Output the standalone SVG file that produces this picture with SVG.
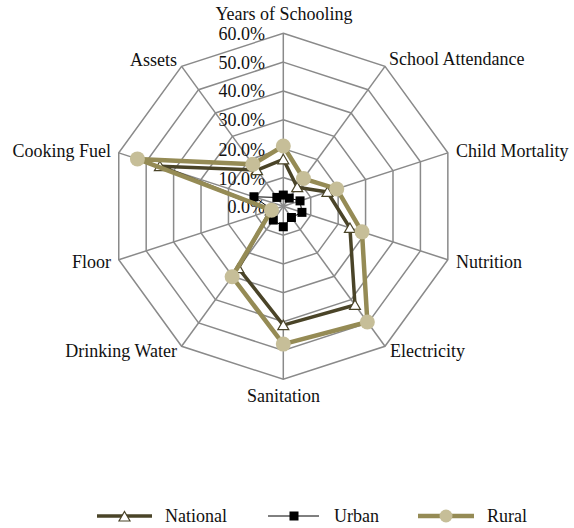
<svg xmlns="http://www.w3.org/2000/svg" xmlns:xlink="http://www.w3.org/1999/xlink" width="574" height="528" viewBox="0 0 574 528">
<style>
  text{font-family:"Liberation Serif","Times New Roman",serif;font-size:18px;fill:#111}
  .grid{fill:none;stroke:#8a8a8a;stroke-width:1.5;vector-effect:non-scaling-stroke}
  .spoke{stroke:#8a8a8a;stroke-width:1.5}
  .nat{fill:none;stroke:#4a4428;stroke-width:3.5;stroke-linejoin:round}
  .urb{fill:none;stroke:#000;stroke-width:1}
  .rur{fill:none;stroke:#958b55;stroke-width:4.5;stroke-linejoin:round}
</style>
<defs>
  <polygon id="ring" class="grid" points="0,-173 101.69,-139.96 164.54,-53.46 164.54,53.46 101.69,139.96 0,173 -101.69,139.96 -164.54,53.46 -164.54,-53.46 -101.69,-139.96"/>
  <path id="tri" d="M0,-5 L5.5,4.5 L-5.5,4.5 Z" fill="#fff" stroke="#4a4428" stroke-width="1.2"/>
  <rect id="sq" x="-4.5" y="-4.5" width="9" height="9" fill="#000"/>
  <circle id="dot" r="7.5" fill="#c6be98"/>
</defs>
<rect width="574" height="528" fill="#fff"/>
<g id="grid" transform="translate(283.3,206.3)">
  <use xlink:href="#ring" transform="scale(0.16667)"/>
  <use xlink:href="#ring" transform="scale(0.33333)"/>
  <use xlink:href="#ring" transform="scale(0.5)"/>
  <use xlink:href="#ring" transform="scale(0.66667)"/>
  <use xlink:href="#ring" transform="scale(0.83333)"/>
  <use xlink:href="#ring"/>
  <g class="spoke">
    <line x1="0" y1="0" x2="0" y2="-173"/>
    <line x1="0" y1="0" x2="101.69" y2="-139.96"/>
    <line x1="0" y1="0" x2="164.54" y2="-53.46"/>
    <line x1="0" y1="0" x2="164.54" y2="53.46"/>
    <line x1="0" y1="0" x2="101.69" y2="139.96"/>
    <line x1="0" y1="0" x2="0" y2="173"/>
    <line x1="0" y1="0" x2="-101.69" y2="139.96"/>
    <line x1="0" y1="0" x2="-164.54" y2="53.46"/>
    <line x1="0" y1="0" x2="-164.54" y2="-53.46"/>
    <line x1="0" y1="0" x2="-101.69" y2="-139.96"/>
  </g>
</g>
<g id="ticks" text-anchor="end">
  <text x="265" y="39.5">60.0%</text>
  <text x="265" y="68.5">50.0%</text>
  <text x="265" y="97.3">40.0%</text>
  <text x="265" y="126.2">30.0%</text>
  <text x="265" y="155.5">20.0%</text>
  <text x="265" y="184.5">10.0%</text>
  <text x="265" y="213">0.0%</text>
</g>
<g id="axis-labels">
  <text x="284" y="20" text-anchor="middle">Years of Schooling</text>
  <text x="389" y="65">School Attendance</text>
  <text x="456" y="157">Child Mortality</text>
  <text x="456" y="268">Nutrition</text>
  <text x="390" y="357">Electricity</text>
  <text x="283.5" y="402" text-anchor="middle">Sanitation</text>
  <text x="177" y="357" text-anchor="end">Drinking Water</text>
  <text x="111" y="268" text-anchor="end">Floor</text>
  <text x="111" y="157" text-anchor="end">Cooking Fuel</text>
  <text x="177" y="66" text-anchor="end">Assets</text>
</g>
<g id="series-national" transform="translate(283.3,206.3)">
  <polygon class="nat" points="0,-46.99 13.9,-19.13 44.15,-14.34 66.63,21.65 71.68,98.66 0,118.78 -44.91,61.81 -12.61,4.1 -123.39,-40.09 -26.27,-36.16"/>
  <use xlink:href="#tri" x="0" y="-46.99"/>
  <use xlink:href="#tri" x="13.9" y="-19.13"/>
  <use xlink:href="#tri" x="44.15" y="-14.34"/>
  <use xlink:href="#tri" x="66.63" y="21.65"/>
  <use xlink:href="#tri" x="71.68" y="98.66"/>
  <use xlink:href="#tri" x="0" y="118.78"/>
  <use xlink:href="#tri" x="-44.91" y="61.81"/>
  <use xlink:href="#tri" x="-12.61" y="4.1"/>
  <use xlink:href="#tri" x="-123.39" y="-40.09"/>
  <use xlink:href="#tri" x="-26.27" y="-36.16"/>
</g>
<g id="series-urban" transform="translate(283.3,206.3)">
  <polygon class="urb" points="0,-11.24 5.93,-8.16 16.73,-5.43 18.64,6.06 8.13,11.2 0,20.47 -10,13.76 -10.97,3.56 -29.34,-9.53 -6.44,-8.87"/>
  <use xlink:href="#sq" x="0" y="-11.24"/>
  <use xlink:href="#sq" x="5.93" y="-8.16"/>
  <use xlink:href="#sq" x="16.73" y="-5.43"/>
  <use xlink:href="#sq" x="18.64" y="6.06"/>
  <use xlink:href="#sq" x="8.13" y="11.2"/>
  <use xlink:href="#sq" x="0" y="20.47"/>
  <use xlink:href="#sq" x="-10" y="13.76"/>
  <use xlink:href="#sq" x="-10.97" y="3.56"/>
  <use xlink:href="#sq" x="-29.34" y="-9.53"/>
  <use xlink:href="#sq" x="-6.44" y="-8.87"/>
</g>
<g id="series-rural" transform="translate(283.3,206.3)">
  <polygon class="rur" points="0,-60.25 20.17,-27.76 53.47,-17.37 78.69,25.57 84.05,115.69 0,137.81 -51.18,70.44 -11.79,3.83 -145.88,-47.39 -30.5,-41.98"/>
  <use xlink:href="#dot" x="0" y="-60.25"/>
  <use xlink:href="#dot" x="20.17" y="-27.76"/>
  <use xlink:href="#dot" x="53.47" y="-17.37"/>
  <use xlink:href="#dot" x="78.69" y="25.57"/>
  <use xlink:href="#dot" x="84.05" y="115.69"/>
  <use xlink:href="#dot" x="0" y="137.81"/>
  <use xlink:href="#dot" x="-51.18" y="70.44"/>
  <use xlink:href="#dot" x="-11.79" y="3.83"/>
  <use xlink:href="#dot" x="-145.88" y="-47.39"/>
  <use xlink:href="#dot" x="-30.5" y="-41.98"/>
</g>
<g id="legend">
  <g id="legend-national">
    <line class="nat" x1="97" y1="516" x2="152" y2="516"/>
    <use xlink:href="#tri" x="124.5" y="516.5"/>
    <text x="165" y="522">National</text>
  </g>
  <g id="legend-urban">
    <line class="urb" x1="268" y1="516" x2="319" y2="516"/>
    <use xlink:href="#sq" x="294" y="516"/>
    <text x="334" y="522">Urban</text>
  </g>
  <g id="legend-rural">
    <line class="rur" x1="418" y1="516" x2="474" y2="516"/>
    <circle cx="446" cy="516" r="6.5" fill="#c6be98"/>
    <text x="487" y="522">Rural</text>
  </g>
</g>
</svg>
